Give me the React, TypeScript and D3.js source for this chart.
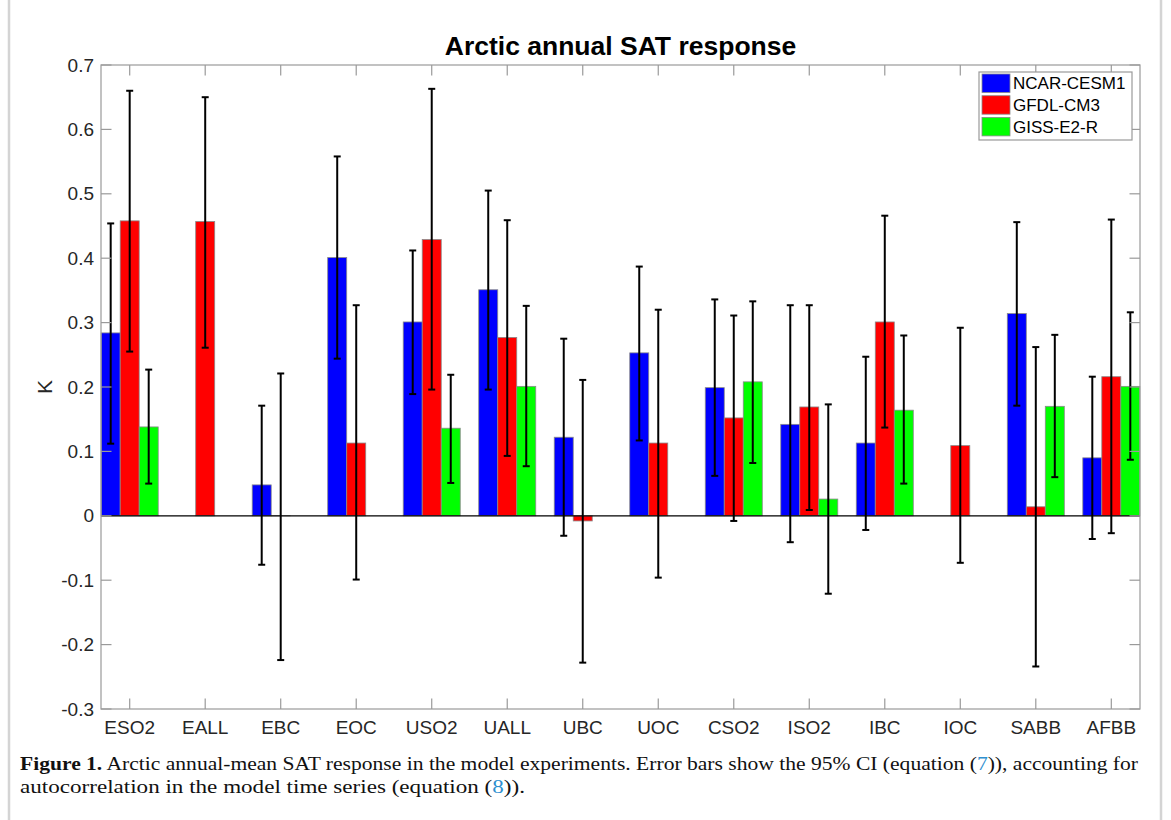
import React from "react";
import * as d3 from "d3";

const categories = ["ESO2","EALL","EBC","EOC","USO2","UALL","UBC","UOC","CSO2","ISO2","IBC","IOC","SABB","AFBB"];
const seriesNames = ["NCAR-CESM1","GFDL-CM3","GISS-E2-R"];
const seriesColors = ["#0000ff","#ff0000","#00ff00"];

const ncar: (number|null)[] = [0.284, null, 0.048, 0.401, 0.301, 0.351, 0.122, 0.253, 0.199, 0.142, 0.113, null, 0.314, 0.090];
const ncarLo: (number|null)[] = [0.112, null, -0.076, 0.244, 0.189, 0.196, -0.031, 0.117, 0.062, -0.041, -0.022, null, 0.171, -0.036];
const ncarHi: (number|null)[] = [0.454, null, 0.171, 0.558, 0.412, 0.505, 0.275, 0.387, 0.336, 0.327, 0.247, null, 0.456, 0.216];

const gfdl: (number|null)[] = [0.458, 0.457, 0.0, 0.113, 0.429, 0.277, -0.008, 0.113, 0.152, 0.169, 0.301, 0.109, 0.014, 0.216];
const gfdlLo: (number|null)[] = [0.255, 0.261, -0.224, -0.099, 0.196, 0.093, -0.228, -0.096, -0.008, 0.009, 0.137, -0.073, -0.234, -0.027];
const gfdlHi: (number|null)[] = [0.660, 0.650, 0.221, 0.327, 0.663, 0.459, 0.211, 0.320, 0.311, 0.327, 0.466, 0.292, 0.262, 0.460];

const giss: (number|null)[] = [0.138, null, null, null, 0.136, 0.201, null, null, 0.208, 0.026, 0.164, null, 0.170, 0.201];
const gissLo: (number|null)[] = [0.050, null, null, null, 0.051, 0.077, null, null, 0.082, -0.121, 0.050, null, 0.060, 0.087];
const gissHi: (number|null)[] = [0.227, null, null, null, 0.219, 0.326, null, null, 0.333, 0.173, 0.280, null, 0.281, 0.316];

const yTicks = [-0.3,-0.2,-0.1,0,0.1,0.2,0.3,0.4,0.5,0.6,0.7];
const yTickLabels = ["-0.3","-0.2","-0.1","0","0.1","0.2","0.3","0.4","0.5","0.6","0.7"];

const values = [ncar, gfdl, giss];
const lows = [ncarLo, gfdlLo, gissLo];
const highs = [ncarHi, gfdlHi, gissHi];

export default function App() {
  const W = 1171, H = 820;
  const L = 101, R = 1140, T = 65, B = 709;
  const x = d3.scaleLinear().domain([0.62, 14.38]).range([L, R]);
  const y = d3.scaleLinear().domain([-0.3, 0.7]).range([B, T]);
  const bw = 0.2517;
  const axisColor = "#9a9a9a";
  const textColor = "#262626";
  const font = "'Liberation Sans', Arial, Helvetica, sans-serif";

  const bars: JSX.Element[] = [];
  const errs: JSX.Element[] = [];
  values.forEach((ser, s) => {
    ser.forEach((v, i) => {
      if (v === null) return;
      const cx = i + 1 + (s - 1) * bw;
      const x0 = x(cx - bw / 2), x1 = x(cx + bw / 2);
      const y0 = y(Math.max(0, v)), y1 = y(Math.min(0, v));
      bars.push(
        <rect key={`b${s}-${i}`} x={x0} y={y0} width={x1 - x0} height={Math.max(0.01, y1 - y0)}
          fill={seriesColors[s]} stroke="#8a8a8a" strokeWidth={0.8} />
      );
      const lo = lows[s][i], hi = highs[s][i];
      if (lo !== null && hi !== null) {
        const ex = x(cx);
        errs.push(
          <g key={`e${s}-${i}`} stroke="#000" strokeWidth={2}>
            <line x1={ex} x2={ex} y1={y(lo)} y2={y(hi)} />
            <line x1={ex - 3.5} x2={ex + 3.5} y1={y(lo)} y2={y(lo)} />
            <line x1={ex - 3.5} x2={ex + 3.5} y1={y(hi)} y2={y(hi)} />
          </g>
        );
      }
    });
  });

  const tickLen = 10.5;

  return (
    <svg width={W} height={H} style={{ position: "absolute", left: 0, top: 0, background: "#fff" }}>
      <rect x={0} y={0} width={W} height={H} fill="#fff" />
      <line x1={9} x2={9} y1={0} y2={H} stroke="#d4d4d4" strokeWidth={2.5} />
      <line x1={1161} x2={1161} y1={0} y2={H} stroke="#d4d4d4" strokeWidth={2.5} />

      <text x={(L + R) / 2} y={55} textAnchor="middle" fontFamily={font} fontWeight="bold" fontSize={26.5} fill="#000">
        Arctic annual SAT response
      </text>

      {bars}
      <line x1={L} x2={R} y1={y(0)} y2={y(0)} stroke="#000" strokeWidth={1.2} />
      {errs}

      {/* axes box */}
      <rect x={L} y={T} width={R - L} height={B - T} fill="none" stroke={axisColor} strokeWidth={1.2} />
      {yTicks.map((t, k) => (
        <g key={`yt${k}`}>
          <line x1={L} x2={L + tickLen} y1={y(t)} y2={y(t)} stroke={axisColor} strokeWidth={1.2} />
          <line x1={R} x2={R - tickLen} y1={y(t)} y2={y(t)} stroke={axisColor} strokeWidth={1.2} />
          <text x={94} y={y(t)} dy="0.35em" textAnchor="end" fontFamily={font} fontSize={19} fill={textColor}>
            {yTickLabels[k]}
          </text>
        </g>
      ))}
      {categories.map((c, i) => (
        <g key={`xt${i}`}>
          <line x1={x(i + 1)} x2={x(i + 1)} y1={B} y2={B - tickLen} stroke={axisColor} strokeWidth={1.2} />
          <line x1={x(i + 1)} x2={x(i + 1)} y1={T} y2={T + tickLen} stroke={axisColor} strokeWidth={1.2} />
          <text x={x(i + 1)} y={734} textAnchor="middle" fontFamily={font} fontSize={19} fill={textColor}>
            {c}
          </text>
        </g>
      ))}

      <text transform={`translate(52,387) rotate(-90)`} textAnchor="middle" fontFamily={font} fontSize={21} fill={textColor}>
        K
      </text>

      {/* legend */}
      <rect x={979} y={72} width={153} height={68} fill="#fff" stroke={axisColor} strokeWidth={1.2} />
      {seriesNames.map((n, s) => (
        <g key={`lg${s}`}>
          <rect x={982} y={74 + s * 21.7} width={28} height={18.5} fill={seriesColors[s]} stroke="#8a8a8a" strokeWidth={0.8} />
          <text x={1013} y={83.3 + s * 21.7} dy="0.36em" fontFamily={font} fontSize={17} fill="#000">{n}</text>
        </g>
      ))}

      {/* caption */}
      <text x={20} y={770} fontFamily="'Liberation Serif', 'Times New Roman', serif" fontSize={18} fill="#111"
        textLength={1118} lengthAdjust="spacingAndGlyphs">
        <tspan fontWeight="bold">Figure 1.</tspan>
        <tspan> Arctic annual-mean SAT response in the model experiments. Error bars show the 95% CI (equation (</tspan>
        <tspan fill="#2e8fcf">7</tspan>
        <tspan>)), accounting for</tspan>
      </text>
      <text x={20} y={793} fontFamily="'Liberation Serif', 'Times New Roman', serif" fontSize={18} fill="#111"
        textLength={505} lengthAdjust="spacingAndGlyphs">
        <tspan>autocorrelation in the model time series (equation (</tspan>
        <tspan fill="#2e8fcf">8</tspan>
        <tspan>)).</tspan>
      </text>
    </svg>
  );
}
